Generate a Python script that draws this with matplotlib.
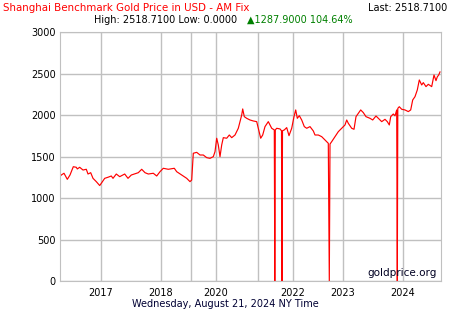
import numpy as np
from matplotlib import pyplot as plt

# price series; x is position along the (non-uniform) time axis
pos = [0, 1.3, 4, 7.3, 10, 13.3, 16.3, 17.3, 19.7, 23, 26.3, 28, 30.7, 33, 36.3, 39.7,
       41.3, 44.7, 48, 51.3, 53, 56.3, 59.7, 64.7, 68, 71.3, 76.3, 78.3, 81.7, 85,
       88.3, 93.3, 96.7, 100, 103.3, 108.3, 114.3, 116.7, 121.7, 126.7, 130, 131.7,
       133.3, 136.7, 140, 143.3, 146.7, 150, 153.3, 155, 156.7, 158.3, 160, 161.7,
       163.3, 166.7, 169.3, 171.7, 175, 178.3, 180, 181.7, 182.7, 184.3, 186.7, 190,
       193.3, 196.7, 198.3, 200.7, 202.7, 205, 208.3, 211.7, 214.3, 214.8, 215.3,
       216.7, 220, 221.5, 222, 222.5, 224.3, 226.7, 229, 231.7, 234, 235.7, 237.3,
       239.3, 241.7, 244.3, 246.7, 250, 253.3, 255, 258.3, 261.7, 265, 268.3, 269.3,
       270, 271.7, 275, 278.3, 281.7, 285, 286.7, 288.3, 291.7, 294, 296, 298.3,
       300.7, 303.3, 306, 310, 312.7, 316, 319.3, 321.7, 325, 327.3, 329.3, 330.7,
       333.3, 335, 336.7, 337.3, 337.8, 339.3, 341.7, 345, 348.3, 350.7, 352.7, 355,
       357.3, 359.3, 361.7, 363.3, 366, 368.3, 371.7, 374, 376, 377.3, 378.7, 380]
price = [1260, 1277, 1298, 1225, 1277, 1377, 1370, 1350, 1370, 1337, 1346, 1289, 1305,
         1237, 1197, 1150, 1177, 1237, 1250, 1265, 1237, 1289, 1257, 1289, 1237, 1277,
         1298, 1305, 1346, 1305, 1289, 1298, 1265, 1317, 1358, 1346, 1358, 1317, 1277,
         1237, 1197, 1217, 1539, 1550, 1518, 1518, 1486, 1478, 1498, 1558, 1720, 1639,
         1498, 1639, 1727, 1720, 1759, 1727, 1759, 1840, 1920, 2000, 2073, 1980, 1960,
         1940, 1928, 1920, 1840, 1720, 1759, 1860, 1920, 1840, 1820, 0, 1820, 1840,
         1832, 1810, 0, 1810, 1820, 1848, 1751, 1840, 1980, 2061, 1960, 1992, 1940,
         1860, 1840, 1860, 1808, 1759, 1759, 1739, 1699, 1659, 0, 1650, 1679, 1739,
         1799, 1840, 1880, 1940, 1900, 1840, 1828, 1980, 2020, 2061, 2029, 1980, 1960,
         1940, 1988, 1948, 1920, 1948, 1920, 1880, 1980, 2012, 1990, 2061, 0, 2080,
         2100, 2069, 2061, 2041, 2061, 2181, 2221, 2302, 2422, 2362, 2390, 2342, 2370,
         2342, 2482, 2414, 2460, 2482, 2518.71]

year_pos = [41, 101, 156, 233, 283, 343]
year_labels = ['2017', '2018', '2020', '2022', '2023', '2024']
extra_grid = [131, 198]

fig = plt.figure(figsize=(4.5, 3.11), dpi=100)
W, H = 450, 311
ax = fig.add_axes([60 / W, 30 / H, 381 / W, 249 / H])

ax.plot(pos, price, color='#ff0000', lw=0.85)
ax.set_xlim(0, 381)
ax.set_ylim(0, 3000)
ax.set_yticks(np.arange(0, 3001, 500))
ax.set_xticks(year_pos)
ax.set_xticklabels(year_labels)
ax.set_xticks(extra_grid, minor=True)
ax.grid(True, which='both', color='#c0c0c0', lw=1)
ax.set_axisbelow(True)
ax.tick_params(which='both', length=0, labelsize=7, colors='black')
ax.tick_params(axis='y', pad=3)
ax.tick_params(axis='x', pad=5)
for s in ax.spines.values():
    s.set_color('#c0c0c0')

fs = 7
fig.text(3 / W, 1 - 8 / H, 'Shanghai Benchmark Gold Price in USD - AM Fix', color='#ff0000',
         fontsize=7.35, va='center', ha='left')
fig.text(447 / W, 1 - 8 / H, 'Last: 2518.7100', color='black', fontsize=fs, va='center', ha='right')
fig.text(94 / W, 1 - 20 / H, 'High: 2518.7100 Low: 0.0000', color='black', fontsize=fs,
         va='center', ha='left')
fig.text(247 / W, 1 - 20 / H, '\u25b21287.9000 104.64%', color='#008000', fontsize=fs,
         va='center', ha='left')
fig.text(437 / W, 1 - 273 / H, 'goldprice.org', color='#000022',
         fontsize=7.5, ha='right', va='center')
fig.text(225 / W, 1 - 304 / H, 'Wednesday, August 21, 2024 NY Time', color='#000033',
         fontsize=fs, ha='center', va='center')

fig.savefig('out.png', dpi=100)
